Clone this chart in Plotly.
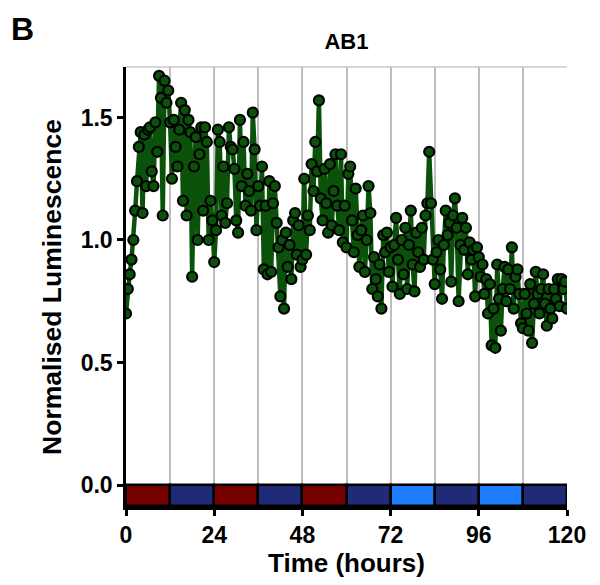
import plotly.graph_objects as go

# Normalised luminescence, sampled every 0.5 h from 0 to 120 h
lum = [
    # 0 - 11.5 h
    0.70, 0.80, 0.86, 0.92, 1.00, 1.12, 1.24, 1.38, 1.44, 1.11, 1.43, 1.22,
    1.45, 1.46, 1.28, 1.22, 1.48, 1.36, 1.67, 1.58, 1.10, 1.65, 1.56, 1.61,
    # 12 - 23.5 h
    1.48, 1.25, 1.49, 1.38, 1.30, 1.45, 1.56, 1.16, 1.53, 1.10, 1.49, 1.44,
    0.85, 1.30, 1.42, 1.00, 1.35, 1.46, 1.12, 1.46, 1.40, 1.00, 1.16, 1.08,
    # 24 - 35.5 h
    0.91, 1.04, 1.45, 1.40, 1.10, 1.30, 1.07, 1.15, 1.46, 1.38, 1.37, 1.29,
    1.08, 1.03, 1.49, 1.22, 1.40, 1.14, 1.27, 1.20, 1.12, 1.52, 1.37, 1.04,
    # 36 - 47.5 h
    1.22, 1.14, 1.30, 0.88, 1.14, 0.86, 1.24, 0.87, 1.15, 1.22, 1.07, 0.97,
    0.77, 1.00, 0.72, 1.03, 0.89, 0.98, 0.84, 1.08, 1.11, 0.94, 1.06, 0.89,
    # 48 - 59.5 h
    0.92, 1.25, 0.94, 1.10, 1.04, 1.31, 1.20, 1.40, 1.28, 1.57, 1.17, 1.08,
    1.29, 1.15, 1.03, 1.31, 1.06, 1.20, 1.35, 1.14, 1.04, 1.35, 0.99, 1.14,
    # 60 - 71.5 h
    0.97, 1.27, 1.30, 1.08, 0.95, 1.21, 1.02, 0.89, 1.04, 1.10, 0.87, 1.00,
    1.22, 1.11, 0.80, 0.93, 0.84, 0.77, 0.90, 0.72, 1.02, 0.95, 1.03, 0.87,
    # 72 - 83.5 h
    0.97, 0.81, 0.98, 1.09, 0.92, 0.78, 1.00, 0.86, 1.05, 0.80, 0.98, 1.12,
    0.90, 0.79, 1.03, 0.95, 0.89, 1.05, 0.92, 1.10, 1.15, 1.36, 1.15, 0.92,
    # 84 - 95.5 h
    0.82, 0.95, 1.00, 0.88, 0.76, 0.98, 1.12, 1.02, 1.07, 0.83, 1.10, 1.17,
    1.05, 0.75, 0.98, 1.09, 0.96, 1.05, 0.86, 0.99, 0.92, 0.96, 0.77, 0.97,
    # 96 - 107.5 h
    0.93, 0.85, 0.90, 0.78, 0.84, 0.70, 0.82, 0.57, 0.72, 0.56, 0.90, 0.76,
    0.63, 0.80, 0.89, 0.75, 0.88, 0.80, 0.97, 0.72, 0.85, 0.88, 0.78, 0.66,
    # 108 - 120 h
    0.64, 0.78, 0.70, 0.63, 0.82, 0.58, 0.74, 0.87, 0.78, 0.70, 0.80, 0.86,
    0.74, 0.65, 0.80, 0.72, 0.68, 0.80, 0.76, 0.84, 0.73, 0.84, 0.80, 0.83,
    0.72,
]
time_h = [i * 0.5 for i in range(len(lum))]

# Light-condition bar (12 h blocks)
block_start = [0, 12, 24, 36, 48, 60, 72, 84, 96, 108]
block_color = ["#760000", "#1F2B77", "#760000", "#1F2B77", "#760000",
               "#1F2B77", "#1E7EFF", "#1F2B77", "#1E7EFF", "#1F2B77"]
block_len = 12
bar_depth = -0.085

x_ticks = [0, 24, 48, 72, 96, 120]
y_ticks = [0.0, 0.5, 1.0, 1.5]

FONT = "Liberation Sans, Arial, sans-serif"

fig = go.Figure()

fig.add_trace(go.Bar(
    x=[s + block_len / 2 for s in block_start],
    y=[bar_depth] * len(block_start),
    base=0,
    width=block_len,
    marker=dict(color=block_color, line=dict(color="black", width=2.5)),
    showlegend=False,
    hoverinfo="skip",
))

fig.add_trace(go.Scatter(
    x=time_h, y=lum,
    mode="lines+markers",
    line=dict(color="#0A520A", width=4.5),
    marker=dict(size=10, color="#0A520A", line=dict(color="black", width=2.2)),
    showlegend=False,
))

fig.update_layout(
    width=600, height=585,
    margin=dict(l=126, r=33, t=67, b=78),
    plot_bgcolor="white", paper_bgcolor="white",
    bargap=0,
    title=dict(text="AB1", x=(126 + 567) / 2 / 600, xanchor="center",
               y=1 - 41 / 585, yanchor="middle",
               font=dict(family=FONT, size=22, color="black", weight="bold")),
    annotations=[dict(text="B", xref="paper", yref="paper",
                      x=-126 / 441 + 9 / 441, y=1 + (67 - 29) / 440,
                      xanchor="left", yanchor="middle", showarrow=False,
                      font=dict(family=FONT, size=32, color="black", weight="bold"))],
    shapes=[dict(type="line", xref="paper", yref="paper", x0=0, x1=1, y0=1, y1=1,
                 line=dict(color="#C8C8C8", width=1.5), layer="below")],
)

fig.update_xaxes(
    range=[0, 120], tickvals=x_ticks,
    showgrid=True, gridcolor="#BEBEBE", gridwidth=2,
    minor=dict(dtick=12, tick0=0, showgrid=True, gridcolor="#BEBEBE", gridwidth=2),
    ticks="outside", ticklen=6, tickwidth=2.5, tickcolor="black",
    showline=True, linecolor="black", linewidth=2.5,
    zeroline=False,
    tickfont=dict(family=FONT, size=23, color="black", weight="bold"),
    title=dict(text="Time (hours)", standoff=6,
               font=dict(family=FONT, size=26, color="black", weight="bold")),
)
fig.update_yaxes(
    range=[-0.0898, 1.706], tickvals=y_ticks, tickformat=".1f",
    showgrid=False, zeroline=False,
    ticks="outside", ticklen=6, tickwidth=2.5, tickcolor="black",
    showline=True, linecolor="black", linewidth=2.5,
    tickfont=dict(family=FONT, size=23, color="black", weight="bold"),
    title=dict(text="Normalised Luminescence", standoff=12,
               font=dict(family=FONT, size=26.5, color="black", weight="bold")),
)

fig.write_html("out.html")
